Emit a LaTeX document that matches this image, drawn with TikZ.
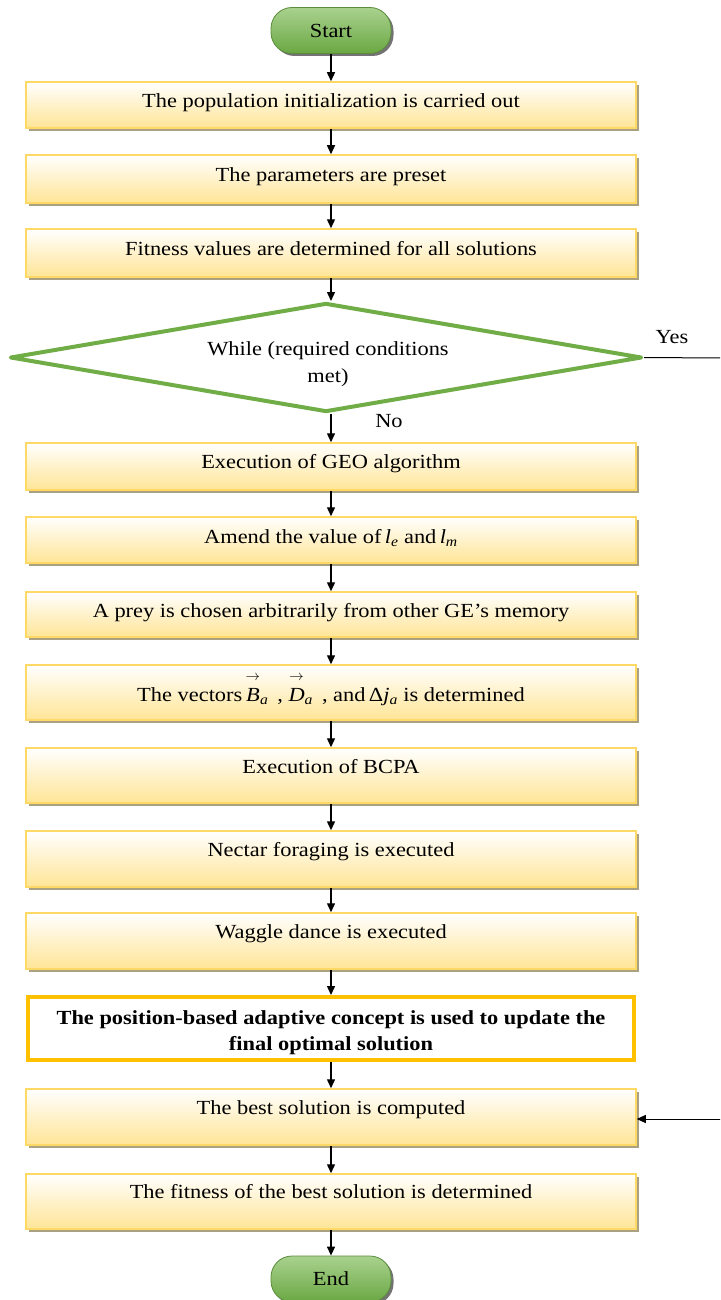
\documentclass[tikz,border=0pt]{standalone}
\usepackage{fontspec}
\usepackage{amsmath}
\setmainfont{Liberation Serif}[FakeStretch=1.12]
\usetikzlibrary{shapes.geometric,arrows.meta,shadows,calc}
\definecolor{boxline}{RGB}{255,217,102}
\definecolor{boxbot}{RGB}{255,229,150}
\definecolor{boxshade}{RGB}{170,160,130}
\definecolor{goldline}{RGB}{255,192,0}
\definecolor{gtop}{RGB}{169,209,142}
\definecolor{gbot}{RGB}{106,168,67}
\definecolor{gline}{RGB}{90,140,60}
\definecolor{dgreen}{RGB}{112,173,71}
\newcommand\flowbox[5]{%
  \node[stepbox, minimum height={#3-#2}] (#1) at (331,{(#2+#3)/2}) {};
  \node[txt] (#1t) at (331,#4) {#5};}
\newcommand\vecarrow[1]{\overset{\raisebox{3pt}{$\scriptstyle\rightarrow$}}{\textit{#1}}}
\begin{document}
\begin{tikzpicture}[x=1pt,y=-1pt,
  font=\fontsize{20}{27}\selectfont,
  stepbox/.style={rectangle, draw=boxline, line width=1.5pt, top color=white, bottom color=boxbot,
    minimum width=610pt, inner sep=0pt,
    drop shadow={shadow xshift=3pt, shadow yshift=-3pt, fill=boxshade, opacity=1}},
  txt/.style={inner sep=0pt, anchor=base},
  term/.style={rectangle, rounded corners=21pt, draw=gline, line width=0.8pt, top color=gtop, bottom color=gbot,
    minimum width=120pt, minimum height=46pt, inner sep=0pt,
    drop shadow={shadow xshift=2.5pt, shadow yshift=-2.5pt, fill=black!55, opacity=1}},
  decision/.style={diamond, draw=dgreen, line width=4pt, fill=white, aspect=5.8,
    minimum width=632pt, minimum height=109pt, inner sep=0pt, line join=round},
  boldbox/.style={rectangle, draw=goldline, line width=4pt, fill=white, minimum width=606pt, minimum height=63pt, inner sep=0pt},
  arr/.style={-{Triangle[length=9pt,width=8pt]}, line width=1.4pt, black},
  thinline/.style={line width=1pt, black}
]
\useasboundingbox (0,0) rectangle (720,1300);
\clip (0,0) rectangle (720,1300);

\node[term] (start) at (331,30.5) {Start};
\flowbox{b1}{82}{128}{107.5}{The population initialization is carried out}
\flowbox{b2}{155}{203}{181.5}{The parameters are preset}
\flowbox{b3}{229}{277}{255.5}{Fitness values are determined for all solutions}
\node[decision] (dia) at (326,357.5) {};
\node[inner sep=0pt, align=center] (diat) at (328,364) {While (required conditions\\met)};
\flowbox{geo}{443}{490}{468.5}{Execution of GEO algorithm}
\flowbox{amend}{517}{563}{543.5}{Amend the value of\,\textit{l}$_{\textit{e}}$ and\,\textit{l}$_{\textit{m}}$}
\flowbox{prey}{592}{637}{617}{A prey is chosen arbitrarily from other GE’s memory}
\flowbox{vec}{665}{720}{701}{The vectors\,$\vecarrow{B}_{\textit{a}}$\ \,, $\vecarrow{D}_{\textit{a}}$\ \,, and\,Δ\textit{j}$_{\textit{a}}$ is determined}
\flowbox{bcpa}{748}{803}{773.5}{Execution of BCPA}
\flowbox{nectar}{831}{887}{856.5}{Nectar foraging is executed}
\flowbox{waggle}{913}{969}{938.5}{Waggle dance is executed}
\node[boldbox] (pos) at (331,1028.5) {};
\node[inner sep=0pt, align=center, font=\fontsize{20}{26}\selectfont\bfseries] (post) at (331,1032.5)
  {The position-based adaptive concept is used to update the\\final optimal solution};
\flowbox{best}{1089}{1145}{1114}{The best solution is computed}
\flowbox{fit}{1174}{1229}{1198.5}{The fitness of the best solution is determined}
\node[term] (end) at (331,1279) {End};

\node (yes) at (672,337) {Yes};
\node (no) at (389,421) {No};
\coordinate (yesend) at (721,358);
\coordinate (loopin) at (721,1119);

\draw[arr] (start) -- (b1);
\draw[arr] (b1) -- (b2);
\draw[arr] (b2) -- (b3);
\draw[arr] (b3.south) -- (b3.south |- dia.north);
\draw[arr] (b3.south |- dia.south) -- (geo.north);
\draw[arr] (geo) -- (amend);
\draw[arr] (amend) -- (prey);
\draw[arr] (prey) -- (vec);
\draw[arr] (vec) -- (bcpa);
\draw[arr] (bcpa) -- (nectar);
\draw[arr] (nectar) -- (waggle);
\draw[arr] (waggle) -- (pos);
\draw[arr] (pos) -- (best);
\draw[arr] (best) -- (fit);
\draw[arr] (fit) -- (end);
\draw[thinline] (dia.east) -- (yesend);
\draw[arr, line width=1pt] (loopin) -- (loopin -| best.east);
\end{tikzpicture}
\end{document}
